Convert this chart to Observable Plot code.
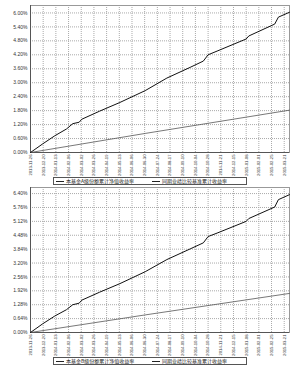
<!DOCTYPE html>
<html><head><meta charset="utf-8">
<script src="https://cdn.jsdelivr.net/npm/d3@7"></script>
<script src="https://cdn.jsdelivr.net/npm/@observablehq/plot@0.6"></script>
<style>
body{margin:0;background:#fff;width:300px;height:367px;overflow:hidden;font-family:"Noto Sans CJK SC",sans-serif}
.legend{position:relative;height:8px;}
.box{position:absolute;left:53px;top:0;width:192px;height:6px;border:1px solid #555;font-size:5px;line-height:6px;white-space:nowrap;overflow:hidden;color:#222}
.item{position:absolute;top:0}
.sw{display:inline-block;width:8px;height:0;border-top:1px solid #222;vertical-align:middle;margin-right:2px}
svg{display:block}
</style>
</head><body>
<div id="c1"></div>
<div class="legend" id="l1"></div>
<div id="c2"></div>
<div class="legend" id="l2"></div>
<script>
// shared sample dates of the cumulative return lines
const lineDates = ["2013-11-26","2013-12-19","2014-01-11","2014-02-02","2014-02-14","2014-02-26","2014-03-03","2014-04-06","2014-05-14","2014-07-01","2014-08-11","2014-09-24","2014-10-19","2014-10-28","2014-11-14","2015-01-08","2015-01-13","2015-03-03","2015-03-10","2015-03-31"];
// fund cumulative net value return (%), top chart (A)
const fundA = [0,0.37,0.72,1.01,1.24,1.30,1.43,1.78,2.15,2.66,3.20,3.66,3.93,4.20,4.36,4.88,5.01,5.52,5.82,6.03];
// fund cumulative net value return (%), bottom chart (B)
const fundB = [0,0.40,0.76,1.05,1.28,1.35,1.49,1.86,2.25,2.80,3.36,3.85,4.13,4.42,4.58,5.12,5.25,5.78,6.12,6.35];
// benchmark
const benchDates = ["2013-11-26","2014-07-01","2015-03-31"];
const benchTop = [0,0.82,1.82];
const benchBottom = [0,0.81,1.80];
// x tick labels
const xTicks = ["2013-11-26","2013-12-20","2014-01-13","2014-02-06","2014-03-02","2014-03-26","2014-04-19","2014-05-13","2014-06-06","2014-06-30","2014-07-24","2014-08-17","2014-09-10","2014-10-04","2014-10-28","2014-11-21","2014-12-15","2015-01-08","2015-02-01","2015-02-25","2015-03-21"];
// y ticks
const yTicksTop = [0,0.6,1.2,1.8,2.4,3.0,3.6,4.2,4.8,5.4,6.0];
const yTicksBottom = [0,0.64,1.28,1.92,2.56,3.2,3.84,4.48,5.12,5.76,6.4];
// legend labels
const legendTop = ["本基金A级份额累计净值收益率","同期业绩比较基准累计收益率"];
const legendBottom = ["本基金B级份额累计净值收益率","同期业绩比较基准累计收益率"];

const parse = d3.utcParse("%Y-%m-%d");
const fmt = d3.utcFormat("%Y-%m-%d");

function chart(fund, bench, yTicks, yMax, height, marginTop) {
  const fd = lineDates.map((d,i)=>({date:parse(d), v:fund[i]}));
  const bd = benchDates.map((d,i)=>({date:parse(d), v:bench[i]}));
  const xt = xTicks.map(parse);
  return Plot.plot({
    width:300, height, marginTop, marginBottom:25, marginLeft:30, marginRight:11,
    style:{fontFamily:"'Liberation Sans',sans-serif", fontSize:"5px", color:"#333", background:"#fff"},
    x:{type:"utc", domain:[parse("2013-11-26"), parse("2015-03-31")], label:null},
    y:{domain:[0,yMax], label:null},
    marks:[
      Plot.gridX(xt,{stroke:"#aaa", strokeOpacity:1, strokeDasharray:"1,1"}),
      Plot.gridY(yTicks,{stroke:"#aaa", strokeOpacity:1, strokeDasharray:"1,1"}),
      Plot.frame({stroke:"#999"}),
      Plot.axisX({ticks:xt, tickFormat:fmt, tickRotate:-90, tickSize:1, tickPadding:1, fontSize:4.2, label:null}),
      Plot.axisY({ticks:yTicks, tickFormat:d=>d.toFixed(2)+"%", tickSize:0, tickPadding:3, fontSize:5, label:null}),
      Plot.ruleX([parse("2013-11-26")],{stroke:"#555"}),
      Plot.ruleY([0],{stroke:"#555"}),
      Plot.line(bd,{x:"date", y:"v", stroke:"#555", strokeWidth:0.8}),
      Plot.line(fd,{x:"date", y:"v", stroke:"#111", strokeWidth:1})
    ]
  });
}

function legend(el, labels) {
  const box = document.createElement("div");
  box.className = "box";
  labels.forEach((t,i)=>{
    const s = document.createElement("span");
    s.className = "item";
    s.style.left = (i===0?2:98)+"px";
    s.innerHTML = '<span class="sw"></span>';
    s.appendChild(document.createTextNode(t));
    box.appendChild(s);
  });
  el.appendChild(box);
}

document.getElementById("c1").appendChild(chart(fundA, benchTop, yTicksTop, 6.32, 177, 5));
legend(document.getElementById("l1"), legendTop);
document.getElementById("c2").appendChild(chart(fundB, benchBottom, yTicksBottom, 6.68, 172, 2));
legend(document.getElementById("l2"), legendBottom);
</script>
</body></html>
